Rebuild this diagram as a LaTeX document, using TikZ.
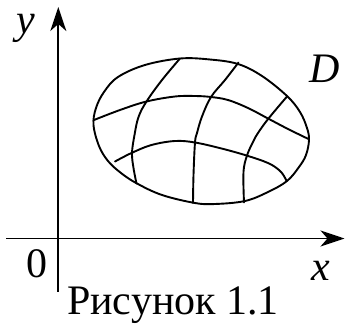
\documentclass[tikz,border=0pt]{standalone}
\usepackage{fontspec}
\setmainfont{Liberation Serif}
\usetikzlibrary{arrows.meta}
\begin{document}
\begin{tikzpicture}[x=1pt,y=-1pt,
  curve/.style={line width=1.9pt, line join=round, line cap=round},
  axis/.style={line width=1.9pt,-{Stealth[length=24pt,width=16pt,inset=7pt]}},
  lbl/.style={font=\fontsize{42}{42}\selectfont\itshape, inner sep=0pt, anchor=base},
  captxt/.style={font=\fontsize{42}{42}\selectfont, inner sep=0pt, anchor=base}]
\useasboundingbox (0,0) rectangle (345,324);
% axes
\coordinate (yb) at (58.3,291.5);
\coordinate (yt) at (58.3,7);
\coordinate (xl) at (6,238.5);
\coordinate (xr) at (344.5,238.5);
\draw[axis] (yb) -- (yt);
\draw[axis] (xl) -- (xr);
% region D boundary
\draw[curve] plot[smooth cycle, tension=0.6] coordinates {
  (180,58.5) (210,59.5) (238,64) (262,76) (287,96) (300,112) (307,128)
  (309,140) (306,155) (299,167) (287,181) (268,192) (245,201) (215,204)
  (195,203) (162,195) (137,183.5) (121,173) (108,161) (99,146) (93.5,125)
  (96,108) (104,92) (118,77) (145,65)};
% grid lines
\draw[curve] plot[smooth, tension=0.6] coordinates {
  (94,120) (120,110) (146.5,101.5) (175,96.5) (195,96) (211,97) (228,100)
  (248,108) (268,118.5) (288,129) (308.5,139)};
\draw[curve] plot[smooth, tension=0.6] coordinates {
  (115,161.5) (131.5,153) (151.5,145) (175,141) (195,142.5) (221.5,148.5)
  (246.5,155.5) (268,163) (279,170) (284,176) (286.5,181)};
\draw[curve] plot[smooth, tension=0.6] coordinates {
  (180,58.5) (162,80) (146.5,101.5) (138.5,117) (134.5,135) (132,153)
  (133.5,168) (136.5,183.5)};
\draw[curve] plot[smooth, tension=0.6] coordinates {
  (238.5,62.5) (225,80) (211,97) (202,116.5) (197,133) (195,142.5)
  (193.5,175) (193,203)};
\draw[curve] plot[smooth, tension=0.6] coordinates {
  (287,96.5) (268.5,118.5) (258,133) (253,142) (247,155.5) (243.5,172)
  (244,202.5)};
% labels
\node[lbl] (ly) at (26,33) {y};
\node[lbl] (lD) at (325,82) {D};
\node[lbl] (lx) at (321,280) {x};
\node[captxt] (l0) at (37,277) {0};
\node[captxt] (lcap) at (173,314.5) {Рисунок 1.1};
\end{tikzpicture}
\end{document}
